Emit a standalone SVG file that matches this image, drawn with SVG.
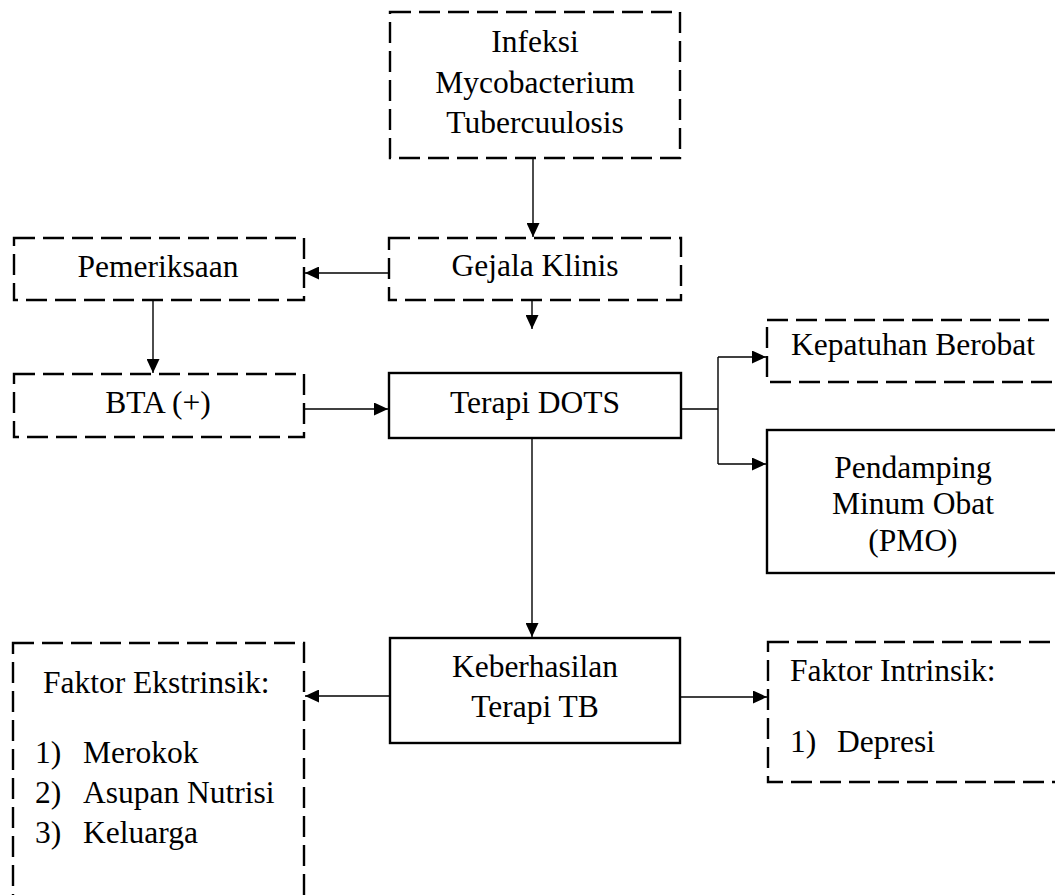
<svg xmlns="http://www.w3.org/2000/svg" width="1055" height="895" viewBox="0 0 1055 895">
<style>
.box{fill:#fff;stroke:#000;stroke-width:2.4}
.dash{stroke-dasharray:21 8}
.t{font-family:'Liberation Serif',Tinos,'Times New Roman','Noto Serif','DejaVu Serif',serif;font-size:31.5px;fill:#000}
.c{text-anchor:middle}
.ln{fill:none;stroke:#000;stroke-width:1.4}
</style>
<defs>
<marker id="ah" markerUnits="userSpaceOnUse" markerWidth="14" markerHeight="13" refX="14" refY="6.5" orient="auto">
<path d="M0,0 L14,6.5 L0,13 z" fill="#000"/>
</marker>
</defs>
<rect width="1055" height="895" fill="#fff"/>
<g id="connectors">
<path class="ln" d="M533,158 V237" marker-end="url(#ah)"/>
<path class="ln" d="M389,273 H305" marker-end="url(#ah)"/>
<path class="ln" d="M532,300 V329" marker-end="url(#ah)"/>
<path class="ln" d="M153,300 V373" marker-end="url(#ah)"/>
<path class="ln" d="M304,409 H388" marker-end="url(#ah)"/>
<path class="ln" d="M681,409 H718 M718,357 V464"/>
<path class="ln" d="M718,357 H766" marker-end="url(#ah)"/>
<path class="ln" d="M718,464 H766" marker-end="url(#ah)"/>
<path class="ln" d="M532,438 V637" marker-end="url(#ah)"/>
<path class="ln" d="M390,696 H305" marker-end="url(#ah)"/>
<path class="ln" d="M680,697 H767" marker-end="url(#ah)"/>
</g>
<g id="infeksi">
<rect class="box dash" x="390" y="12" width="290" height="146"/>
<text class="t c" x="535" y="52" font-family="Liberation Serif, serif">Infeksi</text>
<text class="t c" x="535" y="93">Mycobacterium</text>
<text class="t c" x="535" y="133">Tubercuulosis</text>
</g>
<g id="pemeriksaan">
<rect class="box dash" x="14" y="238" width="290" height="62"/>
<text class="t c" x="158" y="277">Pemeriksaan</text>
</g>
<g id="gejala">
<rect class="box dash" x="389" y="238" width="292" height="62"/>
<text class="t c" x="535" y="276">Gejala Klinis</text>
</g>
<g id="bta">
<rect class="box dash" x="14" y="374" width="290" height="63"/>
<text class="t c" x="158" y="413">BTA (+)</text>
</g>
<g id="dots">
<rect class="box" x="389" y="373" width="292" height="65"/>
<text class="t c" x="535" y="413">Terapi DOTS</text>
</g>
<g id="kepatuhan">
<rect class="box dash" x="767" y="320" width="300" height="62"/>
<text class="t c" x="913" y="355">Kepatuhan Berobat</text>
</g>
<g id="pmo">
<rect class="box" x="767" y="430" width="300" height="143"/>
<text class="t c" x="913" y="478">Pendamping</text>
<text class="t c" x="913" y="514">Minum Obat</text>
<text class="t c" x="913" y="551">(PMO)</text>
</g>
<g id="keberhasilan">
<rect class="box" x="390" y="638" width="290" height="105"/>
<text class="t c" x="535" y="677">Keberhasilan</text>
<text class="t c" x="535" y="717">Terapi TB</text>
</g>
<g id="ekstrinsik">
<rect class="box dash" x="13" y="643" width="291" height="280"/>
<text class="t" x="43" y="693">Faktor Ekstrinsik:</text>
<text class="t" x="35" y="763">1)</text>
<text class="t" x="83" y="763">Merokok</text>
<text class="t" x="35" y="803">2)</text>
<text class="t" x="83" y="803">Asupan Nutrisi</text>
<text class="t" x="35" y="843">3)</text>
<text class="t" x="83" y="843">Keluarga</text>
</g>
<g id="intrinsik">
<rect class="box dash" x="768" y="642" width="300" height="140"/>
<text class="t" x="790" y="681">Faktor Intrinsik:</text>
<text class="t" x="790" y="752">1)</text>
<text class="t" x="837" y="752">Depresi</text>
</g>
</svg>
